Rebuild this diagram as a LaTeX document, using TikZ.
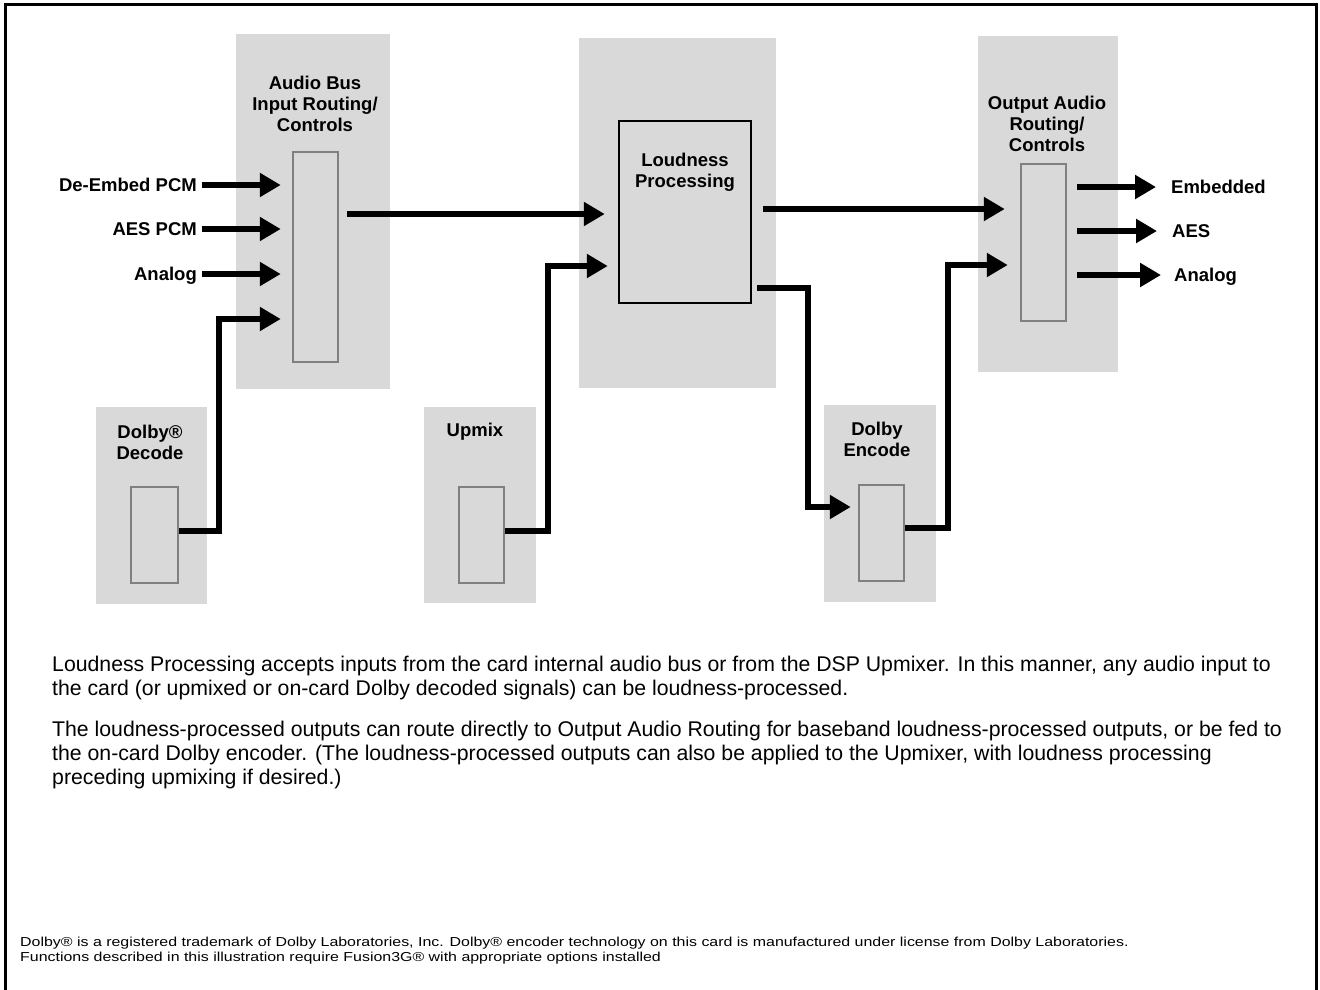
\documentclass[tikz,border=0pt]{standalone}
\usepackage{fontspec}
\setmainfont{Liberation Sans}
\newfontfamily\widefont{Liberation Sans}[FakeStretch=1.226]
\usetikzlibrary{arrows.meta}
\definecolor{panelgray}{RGB}{217,217,217}
\definecolor{slotgray}{RGB}{128,128,128}
\begin{document}
\begin{tikzpicture}[x=1pt,y=-1pt]
	\tikzstyle{panel}=[rectangle,fill=panelgray,inner sep=0]
	\tikzstyle{slot}=[rectangle,draw=slotgray,line width=2.5pt,fill=panelgray,inner sep=0]
	\tikzstyle{title}=[align=center,inner sep=0,font=\fontsize{18.5}{21}\selectfont\bfseries]
	\tikzstyle{sig}=[inner sep=0,text height=13.2pt,text depth=0pt,font=\fontsize{18.5}{21}\selectfont\bfseries]
	\tikzstyle{body}=[align=left,inner sep=0,font=\fontsize{21.25}{24}\selectfont]
	\tikzstyle{foot}=[align=left,inner sep=0,font=\widefont\fontsize{13}{14.5}\selectfont]
	\tikzstyle{flow}=[line width=5.5pt,-{Triangle[length=21pt,width=23pt]}]
	
	\useasboundingbox (0,0) rectangle (1320,989);
	\draw[line width=3pt] (5,4) rectangle (1316,1010);
	
	% gray blocks
	\node[panel,minimum width=154pt,minimum height=355pt] (bus) at (313,211.5) {};
	\node[panel,minimum width=197pt,minimum height=350pt] (loud) at (677.5,213) {};
	\node[panel,minimum width=140pt,minimum height=336pt] (out) at (1048,204) {};
	\node[panel,minimum width=111pt,minimum height=197pt] (dec) at (151.5,505.5) {};
	\node[panel,minimum width=112pt,minimum height=196pt] (upmix) at (480,505) {};
	\node[panel,minimum width=112pt,minimum height=197pt] (enc) at (880,503.5) {};
	
	\node[slot,minimum width=45pt,minimum height=210pt] (bus-slot) at (315.5,257) {};
	\node[slot,minimum width=45pt,minimum height=157pt] (out-slot) at (1043.5,242.5) {};
	\node[slot,minimum width=47pt,minimum height=96pt] (dec-slot) at (154.5,535) {};
	\node[slot,minimum width=45pt,minimum height=96pt] (upmix-slot) at (481.5,535) {};
	\node[slot,minimum width=45pt,minimum height=96pt] (enc-slot) at (881.5,533) {};
	\node[rectangle,draw,line width=2.5pt,fill=panelgray,minimum width=132pt,minimum height=182pt] (loud-box) at (685,212) {};
	
	\node[title] (bus-title) at (315,104) {Audio Bus\\Input Routing/\\Controls};
	\node[title] (loud-title) at (685,172) {Loudness\\Processing};
	\node[title] (out-title) at (1047,124) {Output Audio\\Routing/\\Controls};
	\node[title] (dec-title) at (150,442.5) {Dolby®\\Decode};
	\node[title] (upmix-title) at (475,432) {Upmix};
	\node[title] (enc-title) at (877,439.5) {Dolby\\Encode};
	
	% signals in and out
	\node[sig,anchor=east] (deembed) at (197,185) {De-Embed PCM};
	\node[sig,anchor=east] (aes-in) at (197,229) {AES PCM};
	\node[sig,anchor=east] (analog-in) at (197,274) {Analog};
	\node[sig,anchor=west] (embedded) at (1171,187) {Embedded};
	\node[sig,anchor=west] (aes-out) at (1172,231) {AES};
	\node[sig,anchor=west] (analog-out) at (1174,275) {Analog};
	
	\draw[flow,shorten <=5pt,shorten >=11pt] (deembed) -- (deembed -| bus-slot.west);
	\draw[flow,shorten <=5pt,shorten >=11pt] (aes-in) -- (aes-in -| bus-slot.west);
	\draw[flow,shorten <=5pt,shorten >=11pt] (analog-in) -- (analog-in -| bus-slot.west);
	\draw[flow,shorten >=11pt] ([yshift=4pt]dec-slot.east) -| (219,319) -- (bus-slot.west |- 0,319);
	
	\draw[flow,shorten <=8pt,shorten >=13pt] (bus-slot.east |- 0,214) -- (loud-box.west |- 0,214);
	\draw[flow,shorten >=10pt] ([yshift=4pt]upmix-slot.east) -| (548,266) -- (loud-box.west |- 0,266);
	
	\draw[flow,shorten <=11pt,shorten >=15pt] (loud-box.east |- 0,209) -- (out-slot.west |- 0,209);
	\draw[flow,shorten <=5pt,shorten >=7pt] (loud-box.east |- 0,288) -| (808,507) -- (enc-slot.west |- 0,507);
	\draw[flow,shorten >=12pt] ([yshift=5pt]enc-slot.east) -| (948,265) -- (out-slot.west |- 0,265);
	
	\draw[flow,shorten <=10pt,shorten >=15pt] (out-slot.east |- embedded) -- (embedded);
	\draw[flow,shorten <=10pt,shorten >=15pt] (out-slot.east |- aes-out) -- (aes-out);
	\draw[flow,shorten <=10pt,shorten >=13pt] (out-slot.east |- analog-out) -- (analog-out);
	
	% notes
	\node[body,anchor=north west] (note1) at (52,655.5) {Loudness Processing accepts inputs from the card internal audio bus or from the DSP Upmixer. In this manner, any audio input to\\the card (or upmixed or on-card Dolby decoded signals) can be loudness-processed.};
	\node[body,anchor=north west] (note2) at (52,721) {The loudness-processed outputs can route directly to Output Audio Routing for baseband loudness-processed outputs, or be fed to\\the on-card Dolby encoder. (The loudness-processed outputs can also be applied to the Upmixer, with loudness processing\\preceding upmixing if desired.)};
	\node[foot,anchor=north west] (legal) at (20,937) {Dolby® is a registered trademark of Dolby Laboratories, Inc. Dolby® encoder technology on this card is manufactured under license from Dolby Laboratories.\\Functions described in this illustration require Fusion3G® with appropriate options installed};
\end{tikzpicture}
\end{document}
